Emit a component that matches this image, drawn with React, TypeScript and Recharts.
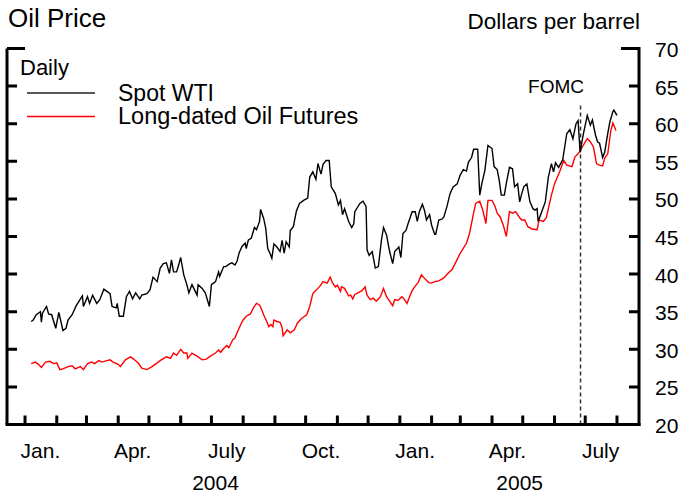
import React from 'react';
import { LineChart, Line, XAxis, YAxis, ReferenceLine } from 'recharts';

// x values are days since 2004-01-01
const spotDays = [6, 8, 11, 15, 16, 17, 21, 23, 26, 30, 33, 37, 40, 42, 46, 50, 56, 57, 61, 63, 66, 70, 73, 77, 80, 83, 85, 89, 90, 92, 96, 99, 102, 105, 108, 112, 114, 119, 122, 125, 129, 132, 135, 138, 141, 143, 145, 148, 150, 152, 155, 158, 160, 163, 168, 169, 173, 176, 180, 182, 186, 189, 190, 194, 196, 200, 202, 205, 207, 209, 212, 215, 216, 218, 221, 224, 226, 229, 230, 233, 235, 237, 239, 241, 243, 246, 249, 251, 253, 255, 258, 259, 262, 265, 268, 272, 276, 278, 281, 284, 286, 289, 291, 294, 297, 299, 303, 306, 308, 310, 312, 316, 319, 321, 322, 327, 330, 333, 334, 336, 339, 342, 345, 348, 350, 353, 356, 359, 361, 365, 367, 369, 372, 374, 378, 381, 383, 385, 388, 390, 392, 395, 397, 400, 401, 404, 407, 409, 412, 415, 418, 422, 425, 428, 431, 433, 436, 438, 442, 444, 446, 449, 452, 456, 458, 461, 463, 465, 468, 470, 473, 476, 478, 481, 483, 485, 487, 490, 493, 496, 498, 500, 501, 504, 508, 511, 514, 516, 518, 521, 525, 529, 532, 535, 538, 540, 542, 545, 547, 549, 552, 554, 557, 559, 561, 564, 566, 569, 571, 574, 575, 578];
const spotValues = [33.7, 33.9, 34.6, 35.0, 33.6, 34.8, 35.7, 34.7, 34.6, 32.8, 34.9, 32.5, 32.8, 33.9, 34.6, 35.8, 37.1, 35.7, 37.0, 36.1, 37.2, 36.1, 36.6, 38.0, 37.7, 37.4, 35.7, 35.5, 36.1, 34.4, 34.4, 37.0, 37.7, 36.7, 37.5, 36.7, 37.2, 37.4, 37.9, 39.6, 39.0, 40.8, 41.4, 41.5, 40.1, 41.9, 40.3, 40.3, 41.2, 42.2, 39.9, 38.6, 37.5, 38.6, 37.2, 38.6, 38.1, 37.5, 35.7, 38.6, 39.0, 40.3, 39.7, 41.0, 41.0, 41.4, 41.5, 41.2, 41.7, 42.8, 43.7, 44.1, 43.4, 44.5, 44.8, 46.2, 45.9, 47.0, 48.6, 47.4, 46.1, 43.4, 42.8, 42.1, 44.0, 43.6, 43.0, 44.5, 42.8, 44.3, 43.6, 45.8, 46.3, 48.4, 49.4, 49.8, 50.1, 52.9, 53.6, 52.6, 54.7, 53.3, 54.6, 55.1, 55.1, 51.6, 50.7, 49.2, 49.8, 47.9, 48.7, 47.0, 46.2, 46.7, 48.3, 49.4, 49.7, 49.0, 43.2, 42.5, 43.0, 40.8, 41.0, 44.5, 46.2, 45.2, 43.0, 41.4, 43.0, 43.6, 42.2, 45.4, 45.8, 46.7, 48.3, 48.3, 47.0, 48.3, 49.3, 48.5, 47.2, 47.9, 46.5, 45.3, 45.3, 47.2, 47.3, 47.6, 49.0, 50.7, 51.6, 52.0, 53.2, 53.9, 53.7, 54.9, 55.5, 56.6, 56.6, 50.5, 52.0, 53.8, 57.1, 56.7, 54.3, 53.9, 52.5, 50.5, 50.5, 52.1, 54.2, 54.0, 51.6, 52.0, 49.6, 50.7, 51.6, 52.0, 49.6, 48.7, 48.5, 48.7, 47.0, 48.1, 49.6, 52.9, 54.7, 53.6, 54.8, 54.2, 55.2, 58.7, 59.2, 58.0, 60.0, 60.4, 56.2, 58.5, 59.8, 61.1, 59.8, 60.5, 58.5, 57.6, 57.4, 55.5, 56.2, 58.7, 60.2, 61.6, 61.8, 61.1];

const futuresDays = [6, 10, 13, 16, 20, 24, 28, 31, 34, 37, 42, 46, 49, 54, 57, 61, 65, 68, 72, 75, 80, 83, 86, 91, 93, 98, 103, 106, 111, 114, 119, 124, 129, 133, 138, 142, 145, 148, 152, 155, 158, 159, 163, 168, 173, 177, 181, 186, 189, 191, 194, 197, 199, 203, 205, 207, 211, 213, 216, 220, 223, 226, 229, 231, 233, 236, 238, 240, 242, 243, 246, 249, 251, 252, 256, 259, 263, 266, 270, 275, 278, 281, 283, 286, 288, 291, 295, 298, 300, 303, 305, 308, 309, 312, 316, 318, 320, 322, 325, 329, 332, 334, 337, 340, 343, 347, 350, 353, 356, 359, 361, 364, 368, 370, 373, 376, 378, 381, 384, 387, 391, 394, 397, 400, 404, 409, 413, 417, 421, 425, 431, 434, 438, 440, 444, 447, 450, 452, 456, 459, 461, 464, 467, 470, 473, 476, 479, 483, 485, 488, 491, 495, 500, 502, 506, 509, 514, 517, 522, 526, 529, 534, 537, 540, 542, 545, 549, 552, 555, 558, 561, 564, 566, 569, 572, 574, 577];
const futuresValues = [28.1, 28.3, 28.0, 27.6, 28.3, 28.4, 28.1, 28.2, 27.3, 27.4, 27.7, 27.8, 27.4, 27.7, 27.3, 28.1, 28.3, 28.1, 28.5, 28.3, 28.5, 28.6, 28.3, 28.0, 27.7, 28.6, 29.0, 28.7, 28.1, 27.5, 27.3, 27.7, 28.2, 28.6, 29.0, 28.8, 29.5, 29.2, 30.0, 29.5, 29.5, 28.8, 29.5, 29.1, 28.6, 28.7, 29.1, 29.5, 29.9, 29.6, 30.1, 30.5, 30.2, 31.3, 31.5, 32.2, 33.4, 33.9, 34.4, 34.7, 35.5, 36.1, 35.9, 35.3, 34.6, 33.7, 33.0, 33.3, 33.0, 33.9, 33.7, 33.6, 32.9, 31.8, 32.6, 32.2, 32.6, 33.5, 34.1, 34.6, 35.7, 37.4, 37.7, 38.1, 38.4, 39.0, 38.8, 39.6, 38.9, 38.3, 38.5, 37.7, 38.3, 38.1, 37.1, 37.2, 36.7, 37.3, 37.5, 37.8, 38.3, 37.2, 36.6, 36.8, 36.4, 37.0, 38.1, 37.0, 36.4, 35.8, 36.6, 36.5, 37.0, 36.7, 36.1, 37.2, 37.8, 38.4, 38.9, 39.9, 39.3, 38.9, 38.8, 39.0, 39.1, 39.5, 40.1, 40.6, 41.7, 42.8, 44.1, 45.4, 48.1, 49.4, 49.7, 48.5, 46.7, 49.8, 49.8, 49.0, 48.1, 47.6, 46.5, 45.0, 48.3, 48.1, 48.3, 47.5, 47.2, 47.2, 46.3, 46.0, 45.9, 47.2, 47.0, 47.5, 50.5, 52.0, 53.6, 55.1, 54.5, 54.3, 55.6, 56.0, 56.4, 57.1, 58.0, 57.6, 56.9, 54.7, 54.5, 54.4, 55.4, 56.0, 59.1, 60.1, 59.1];

const monthStartDays = [0, 31, 60, 91, 121, 152, 182, 213, 244, 274, 305, 335, 366, 397, 425, 456, 486, 517, 547, 578];
const monthLabels = ['Jan.', 'Apr.', 'July', 'Oct.', 'Jan.', 'Apr.', 'July'];
const monthLabelDays = [15, 105, 197, 289, 381, 471, 562];
const yearLabels = ['2004', '2005'];
const yearLabelDays = [186, 483];
const yTicks = [20, 25, 30, 35, 40, 45, 50, 55, 60, 65, 70];
const X_MIN = -17.6;
const X_MAX = 599.5;
const Y_MIN = 20;
const Y_MAX = 70;
const fomcDay = 542.4;
const fomcTop = 62.7;
// tick mark lengths in axis units
const Y_TICK_LEN = 9.8;
const CORNER_LEN = 17.6;
const X_TICK_LEN = 1.2;

const spotData = spotDays.map((d, i) => ({ d, v: spotValues[i] }));
const futuresData = futuresDays.map((d, i) => ({ d, v: futuresValues[i] }));
const labelTicks = [...monthLabelDays, ...yearLabelDays].sort((a, b) => a - b);

// inward tick marks drawn as broken line segments
const tickMarkData: { d: number; v: number | null }[] = [];
yTicks
  .filter((t) => t !== Y_MIN)
  .forEach((t) => {
    const len = t === Y_MAX ? CORNER_LEN : Y_TICK_LEN;
    tickMarkData.push({ d: X_MIN, v: t }, { d: X_MIN + len, v: t }, { d: X_MIN + len, v: null });
    tickMarkData.push({ d: X_MAX - len, v: t }, { d: X_MAX, v: t }, { d: X_MAX, v: null });
  });
monthStartDays.forEach((m) => {
  tickMarkData.push({ d: m, v: Y_MIN }, { d: m, v: Y_MIN + X_TICK_LEN }, { d: m, v: null });
});

const FONT = '"Liberation Sans", Arial, Helvetica, sans-serif';
const INK = '#000';
const TICK_INK = '#000';

const XLabel = (props: any) => {
  const { x, y, payload } = props;
  const v = payload.value;
  const mi = monthLabelDays.indexOf(v);
  if (mi >= 0) {
    return (
      <text x={x} y={y + 33} textAnchor="middle" fontSize={21} fontFamily={FONT} fill={INK}>
        {monthLabels[mi]}
      </text>
    );
  }
  const yi = yearLabelDays.indexOf(v);
  if (yi >= 0) {
    return (
      <text x={x} y={y + 65} textAnchor="middle" fontSize={21} fontFamily={FONT} fill={INK}>
        {yearLabels[yi]}
      </text>
    );
  }
  return <g />;
};

const Decorations = () => (
  <g fontFamily={FONT}>
    <text x={8} y={27} fontSize={26} fill={INK}>Oil Price</text>
    <text x={640} y={29} fontSize={22.5} fill={INK} textAnchor="end">Dollars per barrel</text>
    <text x={20} y={75} fontSize={22} fill={INK}>Daily</text>
    <line x1={27} x2={95} y1={93} y2={93} stroke="#222" strokeWidth={1.5} />
    <text x={118} y={101} fontSize={23} fill={INK}>Spot WTI</text>
    <line x1={27} x2={95} y1={116.5} y2={116.5} stroke="#ff0000" strokeWidth={1.5} />
    <text x={118} y={124} fontSize={23.5} fill={INK}>Long-dated Oil Futures</text>
    <text x={556} y={93} fontSize={19} fill={INK} textAnchor="middle">FOMC</text>
  </g>
);

const axisStyle = { stroke: INK, strokeWidth: 3, strokeLinecap: 'square' as const };

export default function App() {
  return (
    <div style={{ position: 'absolute', left: 0, top: 0, width: 682, height: 497, background: '#fff' }}>
      <LineChart width={682} height={497} margin={{ top: 48.5, right: 0, bottom: 0, left: 7 }}>
        <XAxis
          type="number"
          dataKey="d"
          domain={[X_MIN, X_MAX]}
          ticks={labelTicks}
          interval={0}
          tick={<XLabel />}
          tickLine={false}
          tickSize={0}
          tickMargin={0}
          height={72.5}
          axisLine={axisStyle}
        />
        <YAxis
          yAxisId="r"
          orientation="right"
          width={43}
          domain={[Y_MIN, Y_MAX]}
          ticks={yTicks}
          interval={0}
          tick={{ fontSize: 21, fontFamily: FONT, fill: INK, dy: 1 }}
          tickLine={false}
          tickSize={-10}
          tickMargin={26}
          axisLine={axisStyle}
        />
        <ReferenceLine yAxisId="r" x={X_MIN} stroke={INK} strokeWidth={3} />
        <ReferenceLine
          yAxisId="r"
          segment={[{ x: fomcDay, y: Y_MIN }, { x: fomcDay, y: fomcTop }]}
          stroke="#333"
          strokeWidth={1.5}
          strokeDasharray="4 3"
        />
        <Line
          yAxisId="r"
          data={tickMarkData}
          dataKey="v"
          type="linear"
          stroke={TICK_INK}
          strokeWidth={3}
          dot={false}
          activeDot={false}
          connectNulls={false}
          legendType="none"
          isAnimationActive={false}
        />
        <Line
          yAxisId="r"
          data={futuresData}
          dataKey="v"
          type="linear"
          stroke="#ff0000"
          strokeWidth={1.4}
          dot={false}
          isAnimationActive={false}
        />
        <Line
          yAxisId="r"
          data={spotData}
          dataKey="v"
          type="linear"
          stroke="#000"
          strokeWidth={1.4}
          dot={false}
          isAnimationActive={false}
        />
        <Decorations />
      </LineChart>
    </div>
  );
}
